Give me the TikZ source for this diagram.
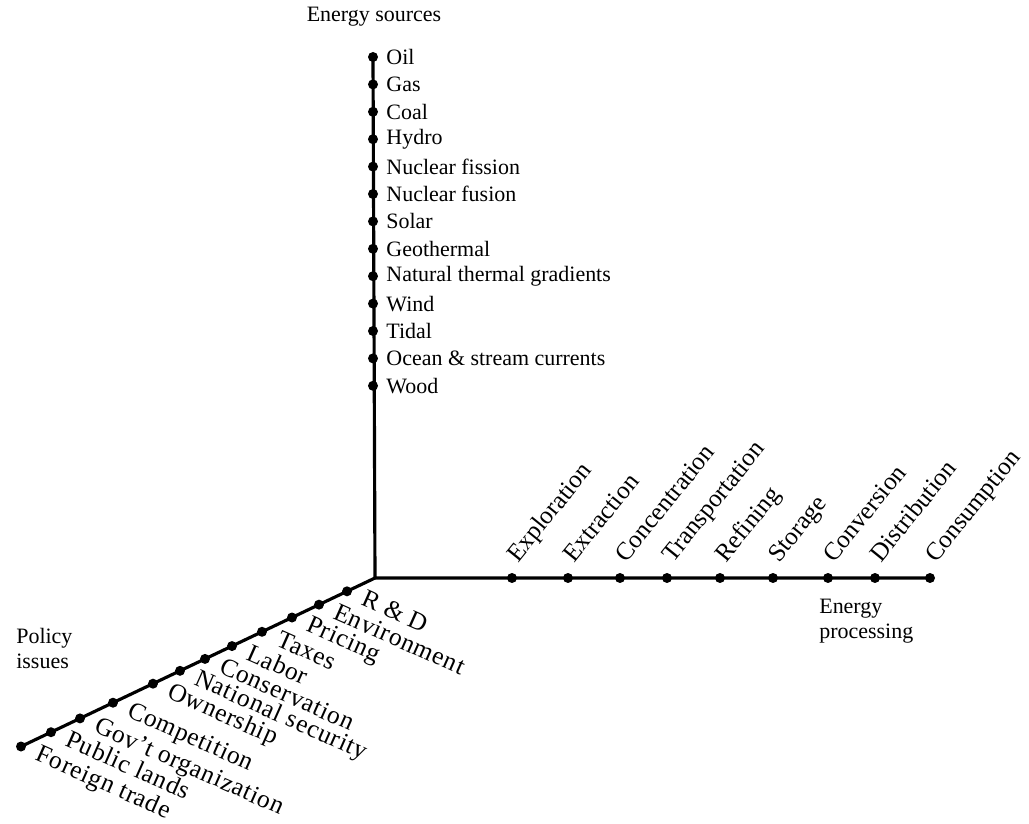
\documentclass[tikz,border=0pt]{standalone}
\usepackage{fontspec}
\setmainfont{Liberation Serif}
\newfontfamily\widefont[LetterSpace=3]{Liberation Serif}
\usetikzlibrary{positioning,calc}

\tikzset{
  dot/.style={circle,fill,inner sep=0pt,minimum size=0.2cm},
  lbl/.style={font=\fontsize{12.5}{14}\selectfont,inner sep=1pt},
  slantlbl/.style={font=\fontsize{14.3}{16}\selectfont,inner sep=1pt},
  widelbl/.style={font=\widefont\fontsize{14.5}{16}\selectfont,inner sep=1pt},
}

\begin{document}
\begin{tikzpicture}[x=0.02cm,y=-0.02cm,line width=1.8pt]
	\useasboundingbox (0,0) rectangle (1029,824);
	\coordinate (O) at (375,578);
	
	% energy sources
	\foreach \s [count=\i] in {Oil,Gas,Coal,Hydro,Nuclear fission,Nuclear fusion,Solar,Geothermal,Natural thermal gradients,Wind,Tidal,{Ocean \& stream currents},Wood}{
		\node[dot] (src\i) at (373,{57+27.4*(\i-1)}) {};
		\node[lbl,anchor=west] (srclbl\i) at ([xshift=2pt]src\i.east) {\s};
	}
	
	% energy processing
	\foreach \x/\s [count=\i] in {512/Exploration,568/Extraction,620/Concentration,667/Transportation,720/Refining,773/Storage,828/Conversion,875/Distribution,930/Consumption}{
		\node[dot] (proc\i) at (\x,578) {};
		\node[slantlbl,rotate=51,anchor=base west] (proclbl\i) at ($(proc\i)+(4,-12)$) {\s};
	}
	
	% policy issues
	\foreach \x/\s [count=\i] in {347/R \& D,319/Environment,292/Pricing,262/Taxes,232/Labor,205/Conservation,180/National security,153/Ownership,113/Competition,80/Gov’t organization,51/Public lands,21/Foreign trade}{
		\node[dot] (pol\i) at (\x,{578+0.476*(375-\x)}) {};
		\node[widelbl,rotate=-24,anchor=base west] (pollbl\i) at ($(pol\i)+(10,12)$) {\s};
	}
	
	\draw (src1.center) -- (O) -- (proc9.center);
	\draw (O) -- (pol12.center);
	
	\node[lbl] (srcttl) at (374,17) {Energy sources};
	\node[lbl,align=left,anchor=north west] (polttl) at (13,625) {Policy\\issues};
	\node[lbl,align=left,anchor=north west] (procttl) at (816,596) {Energy\\processing};
\end{tikzpicture}
\end{document}
